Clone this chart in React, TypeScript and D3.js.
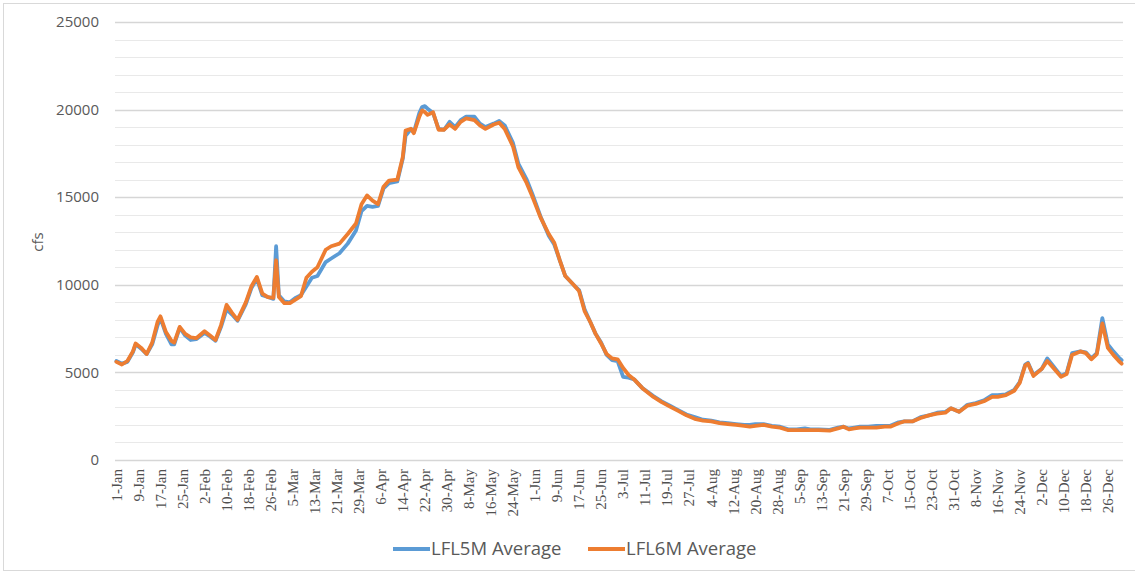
import React from "react";
import * as d3 from "d3";

// day of year (leap year, 0 = 1-Jan) at which each value was read
const days = [
  0, 2, 4, 6, 7, 9, 11, 13, 15, 16,
  18, 20, 21, 23, 25, 27, 29, 32, 34, 36,
  38, 40, 42, 44, 47, 49, 51, 53, 55, 57,
  58, 59, 61, 63, 65, 67, 69, 71, 73, 76,
  78, 81, 84, 87, 89, 91, 93, 95, 97, 99,
  102, 104, 105, 107, 108, 110, 111, 112, 113, 115,
  117, 119, 121, 123, 125, 127, 130, 132, 134, 137,
  139, 141, 144, 146, 149, 151, 154, 157, 159, 161,
  163, 166, 168, 170, 172, 174, 176, 178, 180, 182,
  184, 186, 188, 191, 195, 198, 201, 204, 207, 210,
  213, 216, 219, 222, 225, 228, 230, 232, 235, 238,
  241, 244, 247, 250, 252, 255, 259, 262, 264, 266,
  268, 270, 273, 276, 279, 281, 284, 286, 289, 292,
  295, 298, 301, 303, 306, 309, 312, 315, 318, 320,
  323, 326, 328, 330, 331, 333, 336, 338, 340, 343,
  345, 347, 350, 352, 354, 356, 358, 360, 362, 364,
  365,
];

const lfl5m = [
  5650, 5500, 5600, 6150, 6600, 6350, 6050, 6600, 7700, 8100,
  7200, 6600, 6600, 7550, 7100, 6850, 6900, 7250, 7050, 6800,
  7600, 8600, 8300, 7950, 8900, 9800, 10350, 9400, 9300, 9200,
  12200, 9400, 9050, 9000, 9250, 9400, 9900, 10400, 10500, 11300,
  11500, 11800, 12350, 13100, 14200, 14500, 14450, 14500, 15500, 15800,
  15900, 17200, 18500, 18900, 18700, 19800, 20150, 20200, 20050, 19800,
  18900, 18850, 19300, 19000, 19400, 19600, 19600, 19200, 19000, 19200,
  19350, 19100, 18100, 16900, 16000, 15200, 13900, 12800, 12300, 11400,
  10500, 10000, 9700, 8600, 7900, 7200, 6700, 6000, 5700, 5650,
  4750, 4700, 4600, 4100, 3650, 3350, 3100, 2850, 2600, 2450,
  2300, 2250, 2150, 2100, 2050, 2000, 2000, 2050, 2050, 1950,
  1900, 1750, 1750, 1800, 1750, 1750, 1720, 1850, 1900, 1800,
  1850, 1900, 1900, 1950, 1950, 1950, 2150, 2200, 2200, 2450,
  2550, 2700, 2750, 2950, 2750, 3150, 3250, 3400, 3700, 3700,
  3750, 4000, 4450, 5450, 5550, 4850, 5200, 5800, 5400, 4800,
  4950, 6100, 6200, 6150, 5800, 6100, 8100, 6600, 6200, 5850,
  5700,
];

const lfl6m = [
  5600, 5450, 5650, 6200, 6650, 6400, 6050, 6700, 7900, 8200,
  7300, 6800, 6700, 7600, 7200, 7000, 6950, 7350, 7100, 6850,
  7700, 8850, 8400, 8000, 9000, 9900, 10450, 9500, 9300, 9250,
  11400, 9300, 8950, 8950, 9150, 9350, 10400, 10750, 11000, 12000,
  12200, 12350, 12900, 13500, 14600, 15100, 14800, 14600, 15600, 15950,
  16000, 17300, 18800, 18900, 18650, 19600, 19950, 19850, 19700, 19850,
  18850, 18850, 19150, 18900, 19300, 19500, 19400, 19100, 18900, 19150,
  19250, 18900, 17900, 16700, 15800, 15050, 13850, 12900, 12400, 11400,
  10500, 10000, 9650, 8500, 7900, 7200, 6650, 6050, 5800, 5750,
  5250, 4850, 4600, 4100, 3600, 3300, 3050, 2800, 2550, 2350,
  2250, 2200, 2100, 2050, 2000, 1950, 1900, 1950, 2000, 1900,
  1850, 1700, 1700, 1700, 1700, 1700, 1680, 1800, 1900, 1750,
  1800, 1850, 1850, 1850, 1900, 1900, 2100, 2200, 2200, 2400,
  2550, 2650, 2700, 2950, 2750, 3100, 3200, 3350, 3600, 3600,
  3700, 3950, 4400, 5400, 5500, 4800, 5200, 5650, 5300, 4750,
  4900, 6000, 6200, 6100, 5750, 6050, 7800, 6400, 6000, 5650,
  5500,
];

// a label every 8th day
const tickLabels = [
  "1-Jan", "9-Jan", "17-Jan", "25-Jan", "2-Feb", "10-Feb", "18-Feb", "26-Feb",
  "5-Mar", "13-Mar", "21-Mar", "29-Mar", "6-Apr", "14-Apr", "22-Apr", "30-Apr",
  "8-May", "16-May", "24-May", "1-Jun", "9-Jun", "17-Jun", "25-Jun", "3-Jul",
  "11-Jul", "19-Jul", "27-Jul", "4-Aug", "12-Aug", "20-Aug", "28-Aug", "5-Sep",
  "13-Sep", "21-Sep", "29-Sep", "7-Oct", "15-Oct", "23-Oct", "31-Oct", "8-Nov",
  "16-Nov", "24-Nov", "2-Dec", "10-Dec", "18-Dec", "26-Dec",
];

const seriesNames = ["LFL5M Average", "LFL6M Average"];
const colors = ["#5b9bd5", "#ed7d31"];

const width = 1135;
const height = 573;
const sans = "'Open Sans', 'Liberation Sans', sans-serif";
const serif = "'Liberation Serif', 'DejaVu Serif', serif";

export default function App() {
  const x = d3.scaleLinear().domain([-0.5, 365.5]).range([115, 1123]);
  const y = d3.scaleLinear().domain([0, 25000]).range([460, 22]);

  const line = d3
    .line<number>()
    .x((_, i) => x(days[i]))
    .y((d) => y(d));

  const minor = d3.range(0, 25001, 1000);
  const major = y.ticks(5);

  return (
    <div style={{ position: "absolute", left: 0, top: 0 }}>
      <svg width={width} height={height} style={{ display: "block", background: "#fff" }}>
        <rect x={3.5} y={3.5} width={1140} height={567} fill="#fff" stroke="#d9d9d9" />

        {/* gridlines */}
        {minor.map((v) => (
          <line
            key={v}
            x1={115}
            x2={1123}
            y1={Math.round(y(v)) + 0.5}
            y2={Math.round(y(v)) + 0.5}
            stroke={v % 5000 === 0 ? "#d6d6d6" : "#e9e9e9"}
            strokeWidth={v % 5000 === 0 ? 1.3 : 1}
          />
        ))}

        {/* y tick labels */}
        {major.map((v) => (
          <text
            key={v}
            x={99}
            y={y(v)}
            dy="0.35em"
            textAnchor="end"
            fontFamily={sans}
            fontSize={15}
            fill="#595959"
          >
            {v}
          </text>
        ))}

        <text
          transform={`translate(43,242) rotate(-90)`}
          textAnchor="middle"
          fontFamily={sans}
          fontSize={15}
          fill="#595959"
        >
          cfs
        </text>

        {/* x tick labels */}
        {tickLabels.map((t, i) => (
          <text
            key={t}
            transform={`translate(${x(i * 8)},469) rotate(-90)`}
            textAnchor="end"
            dy="0.35em"
            fontFamily={serif}
            fontSize={15}
            fill="#505050"
          >
            {t}
          </text>
        ))}

        {/* series */}
        {[lfl5m, lfl6m].map((s, i) => (
          <path
            key={seriesNames[i]}
            d={line(s) ?? ""}
            fill="none"
            stroke={colors[i]}
            strokeWidth={3.8}
            strokeLinejoin="round"
            strokeLinecap="round"
          />
        ))}

        {/* legend */}
        {seriesNames.map((n, i) => {
          const lx = i === 0 ? 393 : 588;
          return (
            <g key={n}>
              <line x1={lx} x2={lx + 37} y1={549} y2={549} stroke={colors[i]} strokeWidth={3.8} />
              <text
                x={lx + 38}
                y={549}
                dy="0.35em"
                fontFamily={sans}
                fontSize={18.5}
                fill="#595959"
              >
                {n}
              </text>
            </g>
          );
        })}
      </svg>
    </div>
  );
}
